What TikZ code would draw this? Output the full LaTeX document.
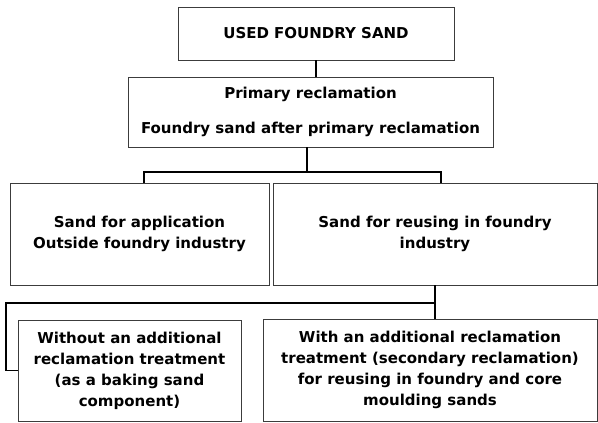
\documentclass[tikz,border=0pt]{standalone}
\usepackage{fontspec}
\setmainfont{DejaVu Sans}
\usepackage{xcolor}
\usepackage{tikz}
\usetikzlibrary{positioning,calc}
\definecolor{boxline}{RGB}{60,60,60}
\tikzset{
  stage/.style={rectangle, draw=boxline, fill=white, line width=0.9pt, inner sep=0pt, align=center, font=\fontsize{15}{21}\selectfont\bfseries},
  link/.style={draw=black, line width=1.8pt}
}

\begin{document}
\begin{tikzpicture}[x=1pt, y=-1pt]
  \useasboundingbox (0,0) rectangle (598,423);

  % Stages (nodes)
  \node[stage, minimum width=276pt, minimum height=53pt] (used) at (316,33.5) {USED FOUNDRY SAND};
  \node[stage, minimum width=365pt, minimum height=70pt] (primary) at (310.5,112) {Primary reclamation\\[14pt]Foundry sand after primary reclamation};
  \node[stage, minimum width=259pt, minimum height=102pt] (outside) at (139.5,234) {Sand for application\\Outside foundry industry};
  \node[stage, minimum width=324pt, minimum height=102pt] (reuse) at (435,234) {Sand for reusing in foundry\\industry};
  \node[stage, minimum width=223pt, minimum height=101pt] (without) at (129.5,370.5) {Without an additional\\reclamation treatment\\(as a baking sand\\component)};
  \node[stage, minimum width=334pt, minimum height=102pt] (with) at (430,370) {With an additional reclamation\\treatment (secondary reclamation)\\for reusing in foundry and core\\moulding sands};

  % Junctions of the connectors
  \coordinate (jA) at (307,172);
  \coordinate (jAl) at (144,172);
  \coordinate (jAr) at (441,172);
  \coordinate (jB) at (435,303);
  \coordinate (jBl) at (6,303);

  % Connectors
  \draw[link] (used.south -| 316,0) -- (primary.north -| 316,0);
  \draw[link] (primary.south -| jA) -- (jA);
  \draw[link] (outside.north -| jAl) -- (jAl) -- (jAr) -- (reuse.north -| jAr);
  \draw[link] (reuse.south -| jB) -- (jB) -- (jBl) |- (without.west);
  \draw[link] (jB) -- (with.north -| jB);
\end{tikzpicture}
\end{document}
